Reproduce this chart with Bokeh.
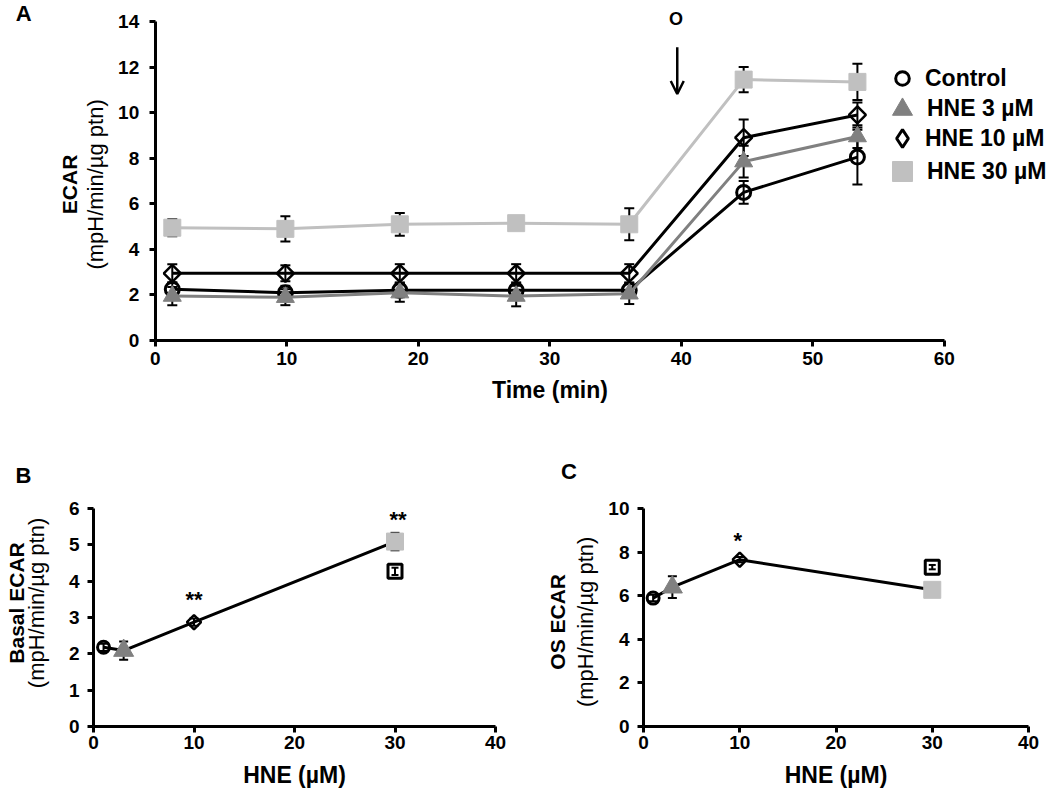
import math
from bokeh.plotting import figure
from bokeh.models import (ColumnDataSource, Range1d, FixedTicker, Whisker, TeeHead,
                          Legend, LegendItem, Label, Arrow, OpenHead)
from bokeh.layouts import column, row
from bokeh.embed import file_html
from bokeh.resources import INLINE

FONT = "Liberation Sans"

# ---------------- Panel A data ----------------
time_min = [1.3, 9.9, 18.6, 27.45, 36.05, 44.75, 53.4]
series_names = ["Control", "HNE 3 µM", "HNE 10 µM", "HNE 30 µM"]
ecar_control = [2.25, 2.1, 2.2, 2.2, 2.2, 6.5, 8.05]
ecar_control_err = [0.3, 0.3, 0.3, 0.3, 0.3, 0.5, 1.2]
ecar_hne3 = [1.95, 1.9, 2.1, 1.95, 2.05, 7.85, 8.95]
ecar_hne3_err = [0.4, 0.35, 0.4, 0.45, 0.45, 0.7, 0.5]
ecar_hne10 = [2.95, 2.95, 2.95, 2.95, 2.95, 8.9, 9.9]
ecar_hne10_err = [0.4, 0.35, 0.4, 0.4, 0.4, 0.8, 0.55]
ecar_hne30 = [4.95, 4.9, 5.1, 5.15, 5.1, 11.45, 11.35]
ecar_hne30_err = [0.37, 0.55, 0.5, 0.3, 0.7, 0.55, 0.8]
oligo_time = 39.7

# ---------------- Panels B, C data ----------------
hne_conc = [1, 3, 10, 30]
basal_ecar = [2.18, 2.09, 2.87, 5.09]
basal_ecar_err = [0.1, 0.25, 0.1, 0.24]
basal_other = [4.27]
basal_other_err = [0.1]
os_ecar = [5.89, 6.39, 7.65, 6.27]
os_ecar_err = [0.15, 0.5, 0.12, 0.1]
os_other = [7.31]
os_other_err = [0.1]

# ---------------- styles ----------------
markers = ["circle", "triangle", "square", "square"]
angles = [0, 0, math.pi / 4, 0]
line_colors = ["black", "#808080", "black", "#c0c0c0"]
fill_colors = ["white", "#808080", "white", "#c0c0c0"]
fill_alphas = [0, 1, 0, 1]
marker_line_colors = ["black", "#808080", "black", "#c0c0c0"]
marker_line_widths = [3, 1, 2.5, 1]
sizes_a = [14, 18, 12, 17]
sizes_bc = [12, 20, 10, 17]
legend_markers = ["circle", "triangle", "diamond", "square"]
legend_glyph = [34, 50, 44, 50]        # legend marker size = 0.4 * glyph box
legend_rows = [78, 108.5, 138, 171]    # canvas px from top (row centres)


def make_fig(width, height, px0, px1, xv0, xv1, py0, py1, yv0, yv1):
    """Full-canvas frame; px/py are canvas pixel positions of axis end values."""
    sx = (px1 - px0) / (xv1 - xv0)
    sy = (py0 - py1) / (yv1 - yv0)
    p = figure(width=width, height=height,
               x_range=Range1d(xv0 - px0 / sx, xv0 + (width - px0) / sx),
               y_range=Range1d(yv0 - (height - py0) / sy, yv0 + py0 / sy),
               output_backend="svg", toolbar_location=None, min_border=0)
    p.xaxis[0].fixed_location = yv0
    p.yaxis[0].fixed_location = xv0
    p.xaxis[0].bounds = (xv0, xv1)
    p.yaxis[0].bounds = (yv0, yv1)
    p.grid.visible = False
    p.outline_line_color = None
    return p


def style_axes(p, xticks, yticks, xlabel):
    for ax in (p.xaxis[0], p.yaxis[0]):
        ax.axis_line_width = 3
        ax.axis_line_color = "black"
        ax.major_tick_line_width = 3
        ax.major_tick_line_color = "black"
        ax.major_tick_out = 6
        ax.major_tick_in = 0
        ax.minor_tick_line_color = None
        ax.major_label_text_font = FONT
        ax.major_label_text_font_style = "bold"
        ax.major_label_text_font_size = "19px"
        ax.major_label_text_color = "black"
    p.xaxis[0].ticker = FixedTicker(ticks=xticks)
    p.yaxis[0].ticker = FixedTicker(ticks=yticks)
    p.xaxis[0].axis_label = xlabel
    p.xaxis[0].axis_label_text_font = FONT
    p.xaxis[0].axis_label_text_font_style = "bold"
    p.xaxis[0].axis_label_text_font_size = "23px"
    p.xaxis[0].axis_label_text_color = "black"


def add_text(p, x, y, text, size, bold=True, angle=0.0):
    p.add_layout(Label(x=x, y=y, text=text, text_font=FONT, text_font_size=f"{size}px",
                       text_font_style="bold" if bold else "normal", text_color="black",
                       text_align="center", text_baseline="middle", angle=angle))


def add_whisker(p, xs, ys, errs, width=2, head=10):
    src = ColumnDataSource(dict(x=xs, upper=[v + e for v, e in zip(ys, errs)],
                                lower=[v - e for v, e in zip(ys, errs)]))
    w = Whisker(source=src, base="x", upper="upper", lower="lower",
                line_color="black", line_width=width,
                upper_head=TeeHead(size=head, line_width=width, line_color="black"),
                lower_head=TeeHead(size=head, line_width=width, line_color="black"))
    w.level = "underlay"
    p.add_layout(w)


# ================= Panel A =================
A_W, A_H = 1048, 406
pa = make_fig(A_W, A_H, 154.7, 943.7, 0, 60, 340, 21, 0, 14)
style_axes(pa, [0, 10, 20, 30, 40, 50, 60], list(range(0, 15, 2)), "Time (min)")
pa.yaxis[0].major_label_standoff = 10
pa.xaxis[0].major_label_standoff = 5
pa.xaxis[0].axis_label_standoff = 9

values_a = [ecar_control, ecar_hne3, ecar_hne10, ecar_hne30]
errs_a = [ecar_control_err, ecar_hne3_err, ecar_hne10_err, ecar_hne30_err]
for i, (vals, errs) in enumerate(zip(values_a, errs_a)):
    pa.line(time_min, vals, line_color=line_colors[i], line_width=3)
    add_whisker(pa, time_min, vals, errs)
    r = pa.scatter(time_min, vals, marker=markers[i], size=sizes_a[i], angle=angles[i],
                   fill_color=fill_colors[i], fill_alpha=fill_alphas[i],
                   line_color=marker_line_colors[i], line_width=marker_line_widths[i])
    if legend_markers[i] != markers[i]:
        # legend swatch drawn as an upright diamond (legend glyphs ignore angle)
        r = pa.scatter(time_min, vals, marker=legend_markers[i], size=sizes_a[i],
                       fill_color=fill_colors[i], fill_alpha=fill_alphas[i],
                       line_color=marker_line_colors[i], line_width=3, visible=False)
    g = legend_glyph[i]
    leg = Legend(items=[LegendItem(label=series_names[i], renderers=[r])],
                 location=(902 - g / 2, A_H - (legend_rows[i] + g / 2)),
                 padding=0, margin=0, spacing=0, glyph_width=g, glyph_height=g,
                 label_standoff=int(round(23 - g / 2)),
                 label_text_font=FONT, label_text_font_style="bold",
                 label_text_font_size="23px", label_text_color="black",
                 background_fill_alpha=0, border_line_alpha=0,
                 inactive_fill_alpha=0)
    pa.add_layout(leg, "center")

pa.add_layout(Arrow(x_start=oligo_time, y_start=12.87, x_end=oligo_time, y_end=10.82,
                    line_width=2.5, line_color="black",
                    end=OpenHead(size=13, line_width=2.5, line_color="black")))
add_text(pa, oligo_time - 0.1, 14.1, "O", 18, bold=True)
add_text(pa, -6.52, 6.85, "ECAR", 21, bold=True, angle=math.pi / 2)
add_text(pa, -4.54, 6.85, "(mpH/min/µg ptn)", 22, bold=False, angle=math.pi / 2)
add_text(pa, -10.0, 14.35, "A", 22, bold=True)


# ================= Panels B, C =================
BC_H = 386


def dose_panel(width, px0, px1, yend, yticks, vals, errs, other, other_err,
               title1, t1x, t2x, ty, letter, lx, ly, stars):
    p = make_fig(width, BC_H, px0, px1, 0, 40, 320, 102, 0, yend)
    style_axes(p, [0, 10, 20, 30, 40], yticks, "HNE (µM)")
    p.yaxis[0].major_label_standoff = 8
    p.xaxis[0].major_label_standoff = 3
    p.xaxis[0].axis_label_standoff = 10
    p.line(hne_conc, vals, line_color="black", line_width=3)
    add_whisker(p, hne_conc, vals, errs, width=2, head=9)
    add_whisker(p, [hne_conc[3]], other, other_err, width=2, head=7)
    src = ColumnDataSource(dict(x=hne_conc, y=vals, marker=markers, angle=angles,
                                fill=fill_colors, falpha=fill_alphas,
                                lcol=marker_line_colors, lw=[3, 1, 2.5, 1], size=sizes_bc))
    p.scatter("x", "y", marker="marker", size="size", angle="angle", fill_color="fill",
              fill_alpha="falpha", line_color="lcol", line_width="lw", source=src)
    p.scatter([hne_conc[3]], other, marker="square", size=14, fill_color="white",
              fill_alpha=0, line_color="black", line_width=3)
    add_text(p, t1x, ty, title1, 21, bold=True, angle=math.pi / 2)
    add_text(p, t2x, ty, "(mpH/min/µg ptn)", 22, bold=False, angle=math.pi / 2)
    add_text(p, lx, ly, letter, 22, bold=True)
    for sx, sy, st in stars:
        add_text(p, sx, sy, st, 22, bold=True)
    return p


pb = dose_panel(520, 93, 495, 6, list(range(0, 7)), basal_ecar, basal_ecar_err,
                basal_other, basal_other_err, "Basal ECAR", -7.66, -5.67, 3.4,
                "B", -6.97, 6.92, [(10, 3.5, "**"), (30.3, 5.7, "**")])
pc = dose_panel(528, 123, 508, 10, list(range(0, 11, 2)), os_ecar, os_ecar_err,
                os_other, os_other_err, "OS ECAR", -8.94, -6.03, 4.8,
                "C", -7.74, 11.72, [(9.8, 8.55, "*")])

layout = column(pa, row(pb, pc))
open("out.html", "w").write(file_html(layout, INLINE))
